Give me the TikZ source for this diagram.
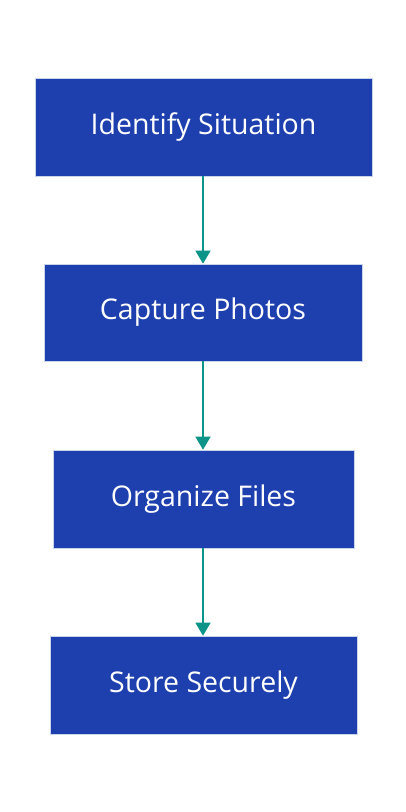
\documentclass[tikz,border=0pt]{standalone}
\usepackage{fontspec}
\setmainfont{Open Sans}
\usetikzlibrary{arrows.meta}
\definecolor{boxblue}{HTML}{1E40AF}
\definecolor{boxedge}{HTML}{C8D4EC}
\definecolor{arrteal}{HTML}{0D9488}
\begin{document}
\begin{tikzpicture}[x=1pt,y=1pt,
  stepbox/.style={draw=boxedge,line width=0.6pt,fill=boxblue,text=white,inner sep=0pt,font=\fontsize{28.5}{34}\selectfont},
  flow/.style={draw=arrteal,line width=1.4pt,-{Triangle[width=15pt,length=13pt]}}]
\useasboundingbox (0,0) rectangle (406,812);
\fill[white] (0,0) rectangle (406,812);
\node[stepbox,minimum width=337pt,minimum height=98pt] (a) at (203.5,685) {Identify Situation};
\node[stepbox,minimum width=318pt,minimum height=97pt] (b) at (203,499.5) {Capture Photos};
\node[stepbox,minimum width=301pt,minimum height=98pt] (c) at (203.5,313) {Organize Files};
\node[stepbox,minimum width=307pt,minimum height=98pt] (d) at (203.5,127) {Store Securely};
\draw[flow] (a.south -| 203,0) -- (b.north -| 203,0);
\draw[flow] (b.south -| 203,0) -- (c.north -| 203,0);
\draw[flow] (c.south -| 203,0) -- (d.north -| 203,0);
\end{tikzpicture}
\end{document}
